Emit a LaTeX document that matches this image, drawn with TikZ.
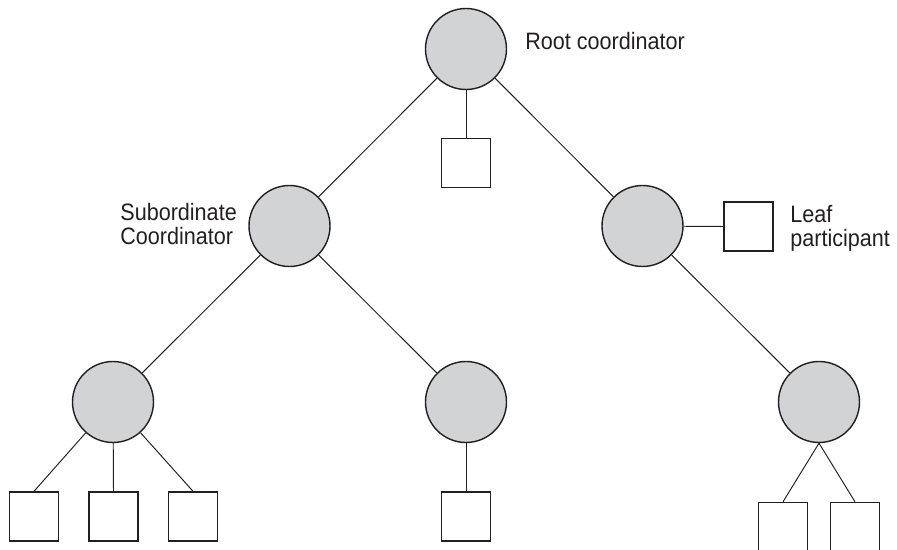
\documentclass[tikz,border=0pt]{standalone}
\usepackage{fontspec}
\setmainfont{Liberation Sans}[FakeStretch=0.91]
\usetikzlibrary{positioning}
\definecolor{treeGray}{RGB}{209,211,212}
\definecolor{treeDark}{RGB}{35,31,32}

\begin{document}
\begin{tikzpicture}[
  coord/.style={circle, draw=treeDark, fill=treeGray, line width=0.8pt,
                minimum size=16.2mm, inner sep=0pt},
  leaf/.style={rectangle, draw=treeDark, fill=white, line width=0.8pt,
               minimum size=9.8mm, inner sep=0pt},
  wire/.style={treeDark, line width=0.55pt},
  lbl/.style={font=\fontsize{13.5pt}{13.7pt}\selectfont, text=treeDark,
              inner sep=0pt, align=left},
]
\useasboundingbox (0,0) rectangle (17.94,-11);

%%──────────────────────────────────────────────────────────────────
%% Coordinators
%%──────────────────────────────────────────────────────────────────
\def\dx{3.53}   % column step
\def\ya{-0.98}  % root level
\def\yb{-4.52}  % subordinate level
\def\yc{-8.04}  % bottom level

\node[coord] (root) at (9.32, \ya) {};
\node[coord] (subL) at ({9.32-\dx}, \yb) {};
\node[coord] (subR) at ({9.32+\dx}, \yb) {};
\node[coord] (botL) at ({9.32-2*\dx}, \yc) {};
\node[coord] (botM) at (9.32, \yc) {};
\node[coord] (botR) at ({9.32+2*\dx}, \yc) {};

\draw[wire] (root) -- (subL);
\draw[wire] (root) -- (subR);
\draw[wire] (subL) -- (botL);
\draw[wire] (subL) -- (botM);
\draw[wire] (subR) -- (botR);

%%──────────────────────────────────────────────────────────────────
%% Leaf participants
%%──────────────────────────────────────────────────────────────────
\node[leaf] (sqRoot) at (9.32, -3.26) {};
\draw[wire] (root) -- (sqRoot.north);

\node[leaf] (sqLeaf) at (14.97, -4.53) {};
\draw[wire] (subR) -- (sqLeaf.west);

% three under the bottom-left coordinator
\foreach \k/\x in {1/0.68, 2/2.27, 3/3.86}{
  \node[leaf] (sqL\k) at (\x, -10.33) {};
  \draw[wire] (botL) -- (sqL\k.north);
}

\node[leaf] (sqM) at (9.32, -10.33) {};
\draw[wire] (botM) -- (sqM.north);

% two under the bottom-right coordinator, cut by the page edge
\foreach \k/\x in {1/15.66, 2/17.10}{
  \node[leaf] (sqR\k) at (\x, -10.54) {};
  \draw[wire] (botR.south) -- (sqR\k.north);
}

%%──────────────────────────────────────────────────────────────────
%% Labels
%%──────────────────────────────────────────────────────────────────
\node[lbl, anchor=base west] (rootLbl) at (10.50, -1.00) {Root coordinator};
\node[lbl, anchor=north west] (subLbl) at (2.40, -4.05) {Subordinate\\Coordinator};
\node[lbl, anchor=north west] (leafLbl) at (15.80, -4.09) {Leaf\\participant};

\end{tikzpicture}
\end{document}
